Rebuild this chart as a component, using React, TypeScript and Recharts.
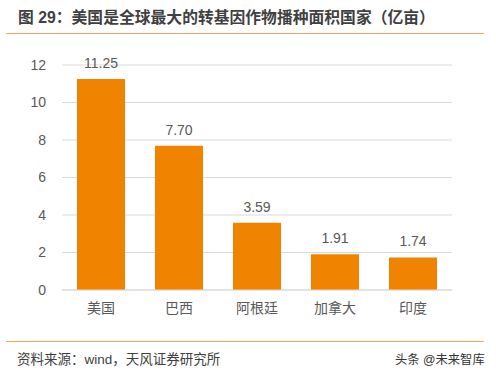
import { Bar, BarChart, CartesianGrid, LabelList, XAxis, YAxis } from 'recharts';

const countries = ['美国', '巴西', '阿根廷', '加拿大', '印度'];
const areas = [11.25, 7.7, 3.59, 1.91, 1.74];
const yTicks = [0, 2, 4, 6, 8, 10, 12];

const data = countries.map((name, i) => ({ name, area: areas[i] }));

const FONT = '"Liberation Sans", "Noto Sans CJK SC", sans-serif';
const ORANGE = '#F08300';
const TEXT = '#595959';

export default function App() {
  return (
    <div style={{ position: 'absolute', left: 0, top: 0, width: 496, height: 378, background: '#fff', fontFamily: FONT }}>
      <div style={{ position: 'absolute', left: 18, top: 5, fontSize: 15.8, fontWeight: 'bold', color: '#404040', whiteSpace: 'nowrap' }}>
        图 29：美国是全球最大的转基因作物播种面积国家（亿亩）
      </div>
      <div style={{ position: 'absolute', left: 6, top: 33, width: 478, height: 1, background: '#F5A55C' }} />
      <BarChart width={496} height={378} data={data} margin={{ top: 65, right: 44, bottom: 58, left: 0 }}>
        <CartesianGrid vertical={false} stroke='#d9d9d9' />
        <XAxis
          dataKey='name'
          height={30}
          tickLine={false}
          axisLine={{ stroke: '#d9d9d9' }}
          tickMargin={7}
          tick={{ fill: TEXT, fontSize: 14, fontFamily: FONT }}
        />
        <YAxis
          width={62}
          domain={[0, 12]}
          ticks={yTicks}
          tickLine={false}
          axisLine={false}
          tickMargin={10}
          tick={{ fill: TEXT, fontSize: 14, fontFamily: FONT }}
        />
        <Bar dataKey='area' fill={ORANGE} barSize={48} isAnimationActive={false}>
          <LabelList
            dataKey='area'
            position='top'
            offset={11}
            formatter={(v: number) => v.toFixed(2)}
            style={{ fill: TEXT, fontSize: 14, fontFamily: FONT }}
          />
        </Bar>
      </BarChart>
      <div style={{ position: 'absolute', left: 6, top: 341, width: 478, height: 1, background: '#F5A55C' }} />
      <div style={{ position: 'absolute', left: 17, top: 348, fontSize: 13.5, color: '#404040', whiteSpace: 'nowrap' }}>
        资料来源：wind，天风证券研究所
      </div>
      <div style={{ position: 'absolute', left: 395, top: 350, fontSize: 12.3, color: '#333', whiteSpace: 'nowrap' }}>
        头条 @未来智库
      </div>
    </div>
  );
}
